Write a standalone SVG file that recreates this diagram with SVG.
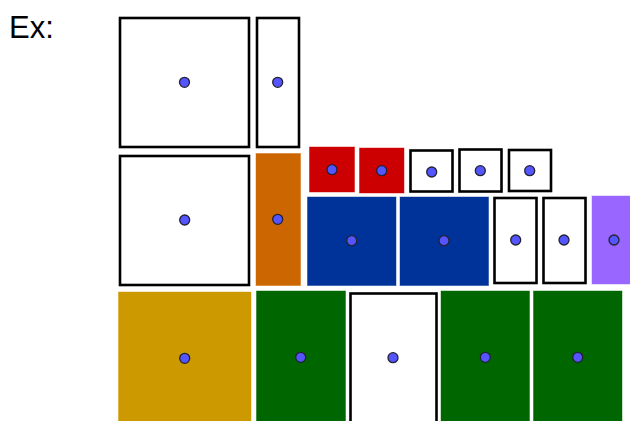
<svg xmlns="http://www.w3.org/2000/svg" width="630" height="421" viewBox="0 0 630 421">
<style>
.w{fill:#ffffff;stroke:#000000;stroke-width:2.6}
.f{stroke-width:1;stroke-opacity:0.45}
.red{fill:#CC0000;stroke:#CC0000}
.org{fill:#CC6600;stroke:#CC6600}
.blu{fill:#003399;stroke:#003399}
.pur{fill:#9966FF;stroke:#9966FF}
.gld{fill:#CC9900;stroke:#CC9900}
.grn{fill:#006600;stroke:#006600}
.d{fill:#5555FF;stroke:#222233;stroke-width:1.3}
text{font-family:"Liberation Sans",Arial,sans-serif;font-size:31px;fill:#000}
</style>
<rect width="630" height="421" fill="#ffffff"/>
<text x="9" y="38">Ex:</text>
<g id="n1"><rect class="w" x="120" y="18" width="129" height="129"/><circle class="d" cx="184.5" cy="82.3" r="5"/></g>
<g id="n2"><rect class="w" x="257" y="18" width="42" height="129"/><circle class="d" cx="277.7" cy="82.3" r="5"/></g>
<g id="n3"><rect class="w" x="120" y="156" width="129" height="129"/><circle class="d" cx="184.7" cy="220" r="5"/></g>
<g id="n4"><rect class="f org" x="256" y="153.5" width="44.5" height="132"/><circle class="d" cx="277.7" cy="219.3" r="5"/></g>
<g id="n5"><rect class="f red" x="309.5" y="147" width="45" height="45"/><circle class="d" cx="332" cy="169.7" r="5"/></g>
<g id="n6"><rect class="f red" x="359.5" y="148" width="44.5" height="45"/><circle class="d" cx="381.7" cy="170.7" r="5"/></g>
<g id="n7"><rect class="w" x="410.5" y="150.5" width="42" height="41"/><circle class="d" cx="431.7" cy="172" r="5"/></g>
<g id="n8"><rect class="w" x="459.5" y="149.5" width="42" height="42"/><circle class="d" cx="480.3" cy="170.7" r="5"/></g>
<g id="n9"><rect class="w" x="509" y="150" width="42" height="41"/><circle class="d" cx="529.7" cy="170.7" r="5"/></g>
<g id="n10"><rect class="f blu" x="307.5" y="197" width="88.5" height="88.5"/><circle class="d" cx="351.7" cy="240.7" r="5"/></g>
<g id="n11"><rect class="f blu" x="400" y="197" width="88.5" height="88.5"/><circle class="d" cx="444" cy="240.7" r="5"/></g>
<g id="n12"><rect class="w" x="494.5" y="198" width="42" height="85"/><circle class="d" cx="515.7" cy="240" r="5"/></g>
<g id="n13"><rect class="w" x="543.5" y="198" width="42" height="85"/><circle class="d" cx="564" cy="240" r="5"/></g>
<g id="n14"><rect class="f pur" x="592" y="196" width="45" height="88"/><circle class="d" cx="614" cy="240" r="5"/></g>
<g id="n15"><rect class="f gld" x="118.5" y="292" width="132.5" height="132"/><circle class="d" cx="184.7" cy="358.3" r="5"/></g>
<g id="n16"><rect class="f grn" x="256.5" y="291" width="89" height="132"/><circle class="d" cx="300.7" cy="357.3" r="5"/></g>
<g id="n17"><rect class="w" x="350.5" y="293.5" width="86" height="130"/><circle class="d" cx="393" cy="357.7" r="5"/></g>
<g id="n18"><rect class="f grn" x="441" y="291" width="88.5" height="132"/><circle class="d" cx="485.3" cy="357.3" r="5"/></g>
<g id="n19"><rect class="f grn" x="533.5" y="291" width="88.5" height="132"/><circle class="d" cx="577.7" cy="357.3" r="5"/></g>
<g id="connectors"></g>
</svg>
